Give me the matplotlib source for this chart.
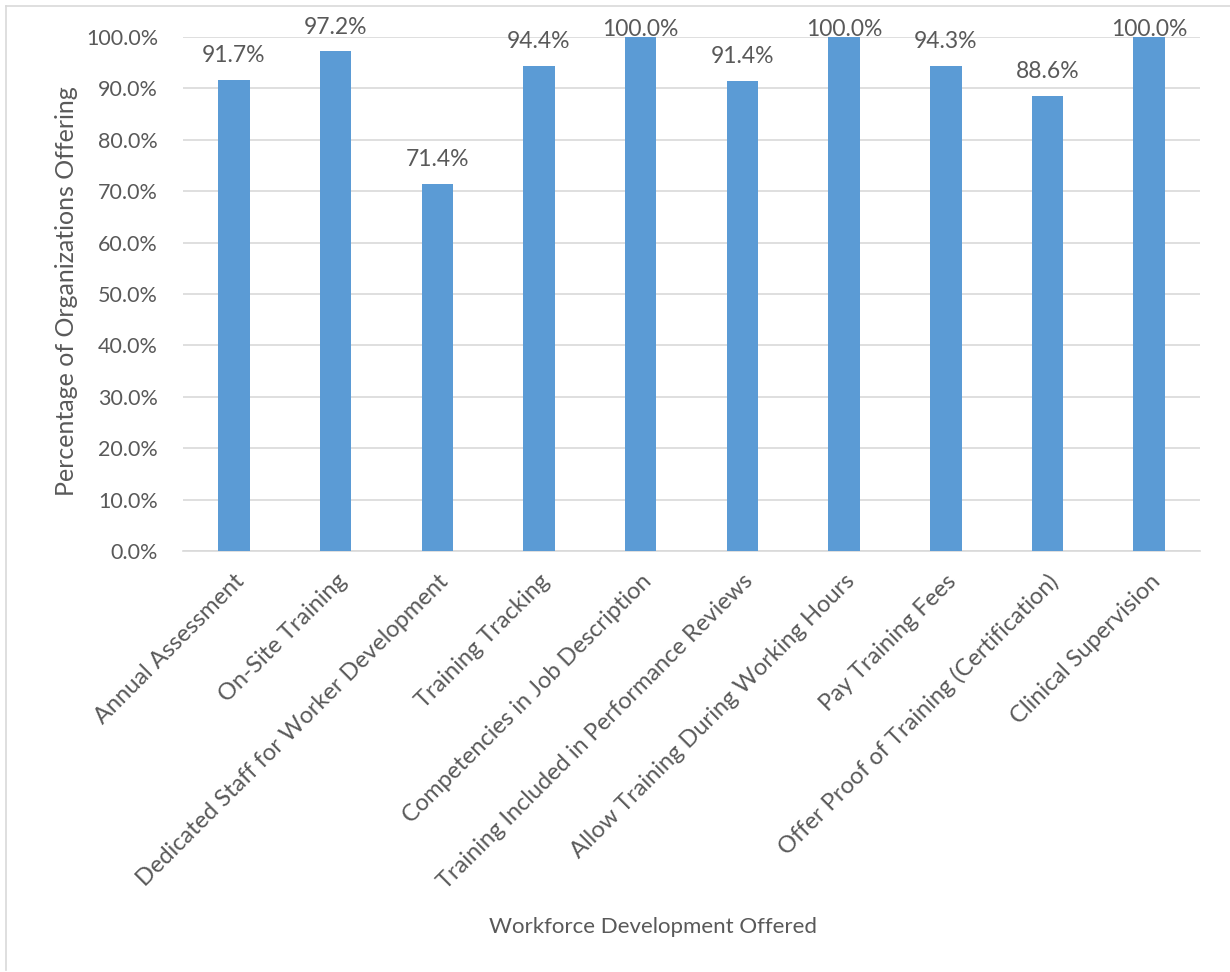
import numpy as np
import matplotlib.pyplot as plt
from matplotlib.lines import Line2D
from matplotlib.ticker import FuncFormatter

# Andel organisationer som erbjuder respektive insats
categories = [
    'Annual Assessment',
    'On-Site Training',
    'Dedicated Staff for Worker Development',
    'Training Tracking',
    'Competencies in Job Description',
    'Training Included in Performance Reviews',
    'Allow Training During Working Hours',
    'Pay Training Fees',
    'Offer Proof of Training (Certification)',
    'Clinical Supervision',
]
percent_offering = [91.7, 97.2, 71.4, 94.4, 100.0, 91.4, 100.0, 94.3, 88.6, 100.0]
y_ticks = [0, 10, 20, 30, 40, 50, 60, 70, 80, 90, 100]

text_grey = '#595959'
bar_blue = '#5B9BD5'
grid_grey = '#D9D9D9'

plt.rcParams['font.family'] = ['Lato', 'DejaVu Sans']

fig = plt.figure(figsize=(12.3, 9.72), dpi=100)
ax = fig.add_axes([0.1488, 0.4331, 0.8268, 0.5288])

x = np.arange(len(categories))
ax.bar(x, percent_offering, width=0.31, color=bar_blue, zorder=3)

# etiketter ovanför staplarna; fulla staplar får etiketten tätt ovanpå så den inte klipps
for xi, v in zip(x, percent_offering):
    offset = 10 if v < 98 else -2
    ax.annotate(f'{v:.1f}%', (xi, v), xytext=(0, offset), textcoords='offset points',
                ha='center', va='bottom', fontsize=16.5, color=text_grey,
                annotation_clip=False, zorder=4)

ax.set_xlim(-0.5, len(categories) - 0.5)
ax.set_ylim(0, 100)
ax.set_yticks(y_ticks)
ax.yaxis.set_major_formatter(FuncFormatter(lambda v, _: f'{v:.1f}%'))
ax.grid(axis='y', color=grid_grey, linewidth=1.2, zorder=0)

ax.set_xticks(x)
ax.set_xticklabels(categories, rotation=45, ha='right', rotation_mode='anchor',
                   fontsize=17, color=text_grey)
ax.tick_params(axis='y', labelsize=15.5, labelcolor=text_grey, length=0, pad=18)
ax.tick_params(axis='x', length=0, pad=14)

for side in ['top', 'right', 'left']:
    ax.spines[side].set_visible(False)
ax.spines['bottom'].set_color(grid_grey)
ax.spines['bottom'].set_linewidth(1.2)

fig.text(67 / 1230, 1 - 291 / 972, 'Percentage of Organizations Offering', rotation=90,
         ha='center', va='center', fontsize=18, color=text_grey)
fig.text(0.531, 0.046, 'Workforce Development Offered', ha='center', va='center',
         fontsize=16, color=text_grey)

# ram längs vänster- och överkant
fig.add_artist(Line2D([0.005, 0.005], [0.002, 0.994], transform=fig.transFigure,
                      color=grid_grey, linewidth=1.2))
fig.add_artist(Line2D([0.005, 1.0], [0.994, 0.994], transform=fig.transFigure,
                      color=grid_grey, linewidth=1.2))

fig.savefig('out.png', dpi=100, facecolor='white')
